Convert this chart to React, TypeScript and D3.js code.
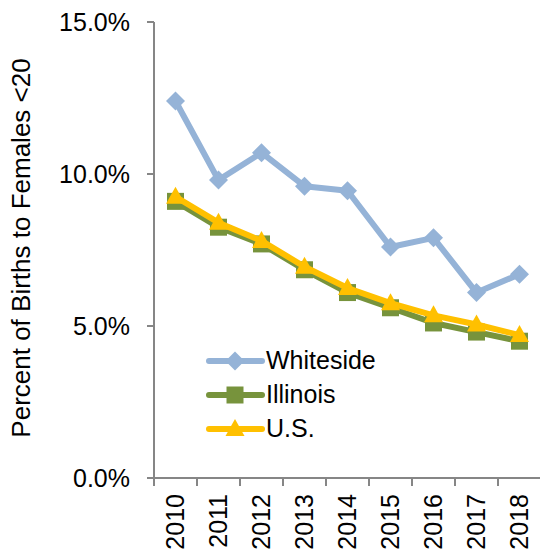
import * as d3 from "d3";
import { useEffect, useRef } from "react";

const years = ["2010", "2011", "2012", "2013", "2014", "2015", "2016", "2017", "2018"];
const whiteside = [12.4, 9.8, 10.7, 9.6, 9.45, 7.6, 7.9, 6.1, 6.7];
const illinois = [9.1, 8.25, 7.7, 6.85, 6.1, 5.6, 5.1, 4.8, 4.5];
const us = [9.25, 8.4, 7.8, 6.95, 6.25, 5.75, 5.35, 5.05, 4.7];
const yTicks = [0, 5, 10, 15];

const series = [
  { name: "Illinois", values: illinois, color: "#77933C", marker: "square" },
  { name: "U.S.", values: us, color: "#FFC000", marker: "triangle" },
  { name: "Whiteside", values: whiteside, color: "#95B3D7", marker: "diamond" },
];
const legendOrder = ["Whiteside", "Illinois", "U.S."];

const App = () => {
  const ref = useRef<SVGSVGElement | null>(null);

  useEffect(() => {
    const svg = d3.select(ref.current);
    svg.selectAll("*").remove();

    const left = 154,
      top = 22,
      bottom = 478,
      right = 541;
    const font = "'Liberation Sans', Arial, sans-serif";
    const axisColor = "#868686";

    const x = d3.scaleBand<string>().domain(years).range([left, right]);
    const y = d3.scaleLinear().domain([0, 15]).range([bottom, top]);
    const cx = (d: string) => (x(d) ?? 0) + x.bandwidth() / 2;

    const markerPath = (type: string) => {
      if (type === "diamond") return "M0,-9.5L9.5,0L0,9.5L-9.5,0Z";
      if (type === "square") return "M-8.5,-8.5H8.5V8.5H-8.5Z";
      return "M0,-10L9.5,7H-9.5Z";
    };

    // y axis
    svg
      .append("line")
      .attr("x1", left)
      .attr("x2", left)
      .attr("y1", top)
      .attr("y2", bottom)
      .attr("stroke", axisColor)
      .attr("stroke-width", 2);
    yTicks.forEach((t) => {
      svg
        .append("line")
        .attr("x1", left - 7)
        .attr("x2", left)
        .attr("y1", y(t))
        .attr("y2", y(t))
        .attr("stroke", axisColor)
        .attr("stroke-width", 2);
      svg
        .append("text")
        .attr("x", 130)
        .attr("y", y(t))
        .attr("dy", "0.35em")
        .attr("text-anchor", "end")
        .attr("font-family", font)
        .attr("font-size", 25)
        .text(d3.format(".1f")(t) + "%");
    });

    // x axis
    svg
      .append("line")
      .attr("x1", left - 7)
      .attr("x2", right)
      .attr("y1", bottom)
      .attr("y2", bottom)
      .attr("stroke", axisColor)
      .attr("stroke-width", 2);
    years.forEach((yr, i) => {
      const bx = left + i * x.step();
      svg
        .append("line")
        .attr("x1", bx)
        .attr("x2", bx)
        .attr("y1", bottom)
        .attr("y2", bottom + 8)
        .attr("stroke", axisColor)
        .attr("stroke-width", 2);
      svg
        .append("text")
        .attr("transform", `translate(${cx(yr)},${bottom + 16}) rotate(-90)`)
        .attr("dy", "0.35em")
        .attr("text-anchor", "end")
        .attr("font-family", font)
        .attr("font-size", 25)
        .text(yr);
    });

    // y title
    svg
      .append("text")
      .attr("transform", `translate(21,248) rotate(-90)`)
      .attr("dy", "0.35em")
      .attr("text-anchor", "middle")
      .attr("font-family", font)
      .attr("font-size", 26)
      .text("Percent of Births to Females <20");

    const line = d3
      .line<number>()
      .x((_, i) => cx(years[i]))
      .y((d) => y(d));

    series.forEach((s) => {
      svg
        .append("path")
        .attr("d", line(s.values))
        .attr("fill", "none")
        .attr("stroke", s.color)
        .attr("stroke-width", 6)
        .attr("stroke-linejoin", "round");
      svg
        .selectAll(null)
        .data(s.values)
        .enter()
        .append("path")
        .attr("d", markerPath(s.marker))
        .attr("transform", (d, i) => `translate(${cx(years[i])},${y(d)})`)
        .attr("fill", s.color);
    });

    // legend
    legendOrder.forEach((name, i) => {
      const s = series.find((d) => d.name === name)!;
      const ly = 361 + i * 34;
      svg
        .append("line")
        .attr("x1", 209)
        .attr("x2", 262)
        .attr("y1", ly)
        .attr("y2", ly)
        .attr("stroke", s.color)
        .attr("stroke-width", 6)
        .attr("stroke-linecap", "round");
      svg
        .append("path")
        .attr("d", markerPath(s.marker))
        .attr("transform", `translate(235,${ly})`)
        .attr("fill", s.color);
      svg
        .append("text")
        .attr("x", 266)
        .attr("y", ly)
        .attr("dy", "0.32em")
        .attr("font-family", font)
        .attr("font-size", 25)
        .text(name);
    });
  }, []);

  return (
    <svg
      ref={ref}
      width={540}
      height={556}
      style={{ position: "absolute", left: 0, top: 0, background: "#fff" }}
    ></svg>
  );
};

export default App;
